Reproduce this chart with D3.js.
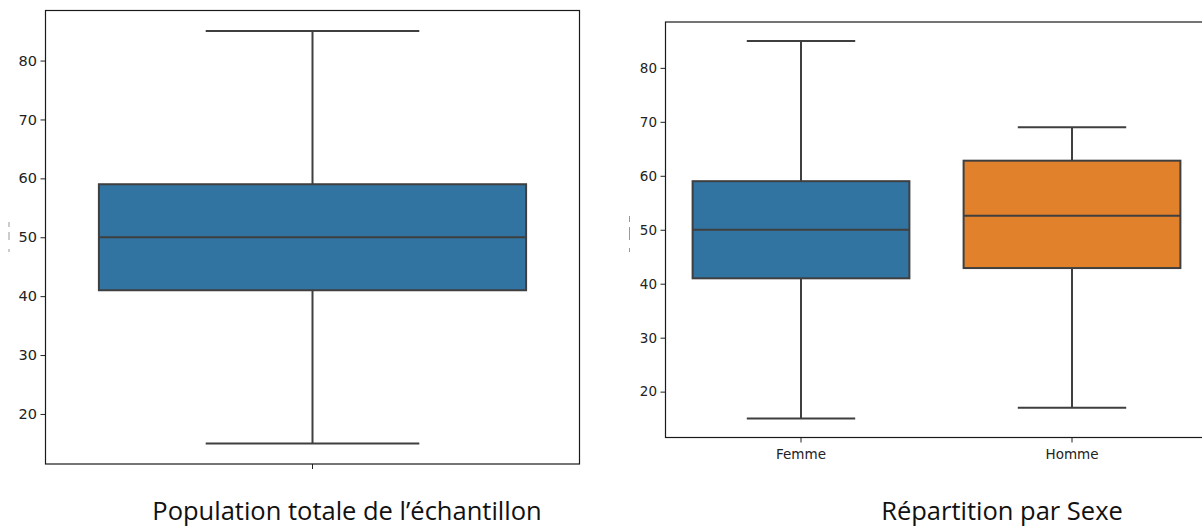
<!DOCTYPE html>
<html>
<head>
<meta charset="utf-8">
<script src="https://cdn.jsdelivr.net/npm/d3@7"></script>
<style>
  html, body { margin: 0; padding: 0; background: #ffffff; }
  svg { display: block; }
</style>
</head>
<body>
<svg id="chart" width="1202" height="527"></svg>
<script>
// ---- data ----
const totalCategories = [""];
const totalWhiskerLow = [15];
const totalQ1 = [41];
const totalMedian = [50];
const totalQ3 = [59];
const totalWhiskerHigh = [85];

const sexCategories = ["Femme", "Homme"];
const sexWhiskerLow = [15, 17];
const sexQ1 = [41, 42.9];
const sexMedian = [50, 52.6];
const sexQ3 = [59, 62.8];
const sexWhiskerHigh = [85, 69];

const yTicks = [20, 30, 40, 50, 60, 70, 80];
const yDomain = [11.5, 88.5];
const boxColors = ["#3274a1", "#e1812c"];
const captions = ["Population totale de l\u2019\u00e9chantillon", "R\u00e9partition par Sexe"];

const svg = d3.select("#chart");
const lineColor = "#3f3f3f";

function drawPanel(opts) {
  const { x0, x1, y0, y1, cats, lo, q1, med, q3, hi, colors, fontSize, showXLabels } = opts;
  const g = svg.append("g");
  const x = d3.scaleBand().domain(cats).range([x0, x1]).paddingInner(0).paddingOuter(0);
  const y = d3.scaleLinear().domain(yDomain).range([y1, y0]);
  const bw = x.bandwidth() * 0.8;
  const cw = bw * 0.5;

  // y axis
  const ya = g.append("g").attr("transform", `translate(${x0},0)`)
    .call(d3.axisLeft(y).tickValues(yTicks).tickSize(5).tickPadding(3.5));
  ya.select(".domain").remove();
  ya.selectAll(".tick line").attr("stroke", "#222").attr("stroke-width", 1);
  ya.selectAll(".tick text").attr("fill", "#222").style("font-family", "'DejaVu Sans'")
    .style("font-size", fontSize + "px");

  // x axis
  const xa = g.append("g").attr("transform", `translate(0,${y1})`)
    .call(d3.axisBottom(x).tickSize(5).tickPadding(7));
  xa.select(".domain").remove();
  xa.selectAll(".tick line").attr("stroke", "#222").attr("stroke-width", 1);
  xa.selectAll(".tick text").attr("fill", "#222").style("font-family", "'DejaVu Sans'")
    .style("font-size", fontSize + "px");
  if (!showXLabels) xa.selectAll(".tick text").remove();

  cats.forEach((c, i) => {
    const cx = x(c) + x.bandwidth() / 2;
    const gb = g.append("g");
    // whiskers
    gb.append("line").attr("x1", cx).attr("x2", cx).attr("y1", y(q3[i])).attr("y2", y(hi[i]))
      .attr("stroke", lineColor).attr("stroke-width", 2);
    gb.append("line").attr("x1", cx).attr("x2", cx).attr("y1", y(q1[i])).attr("y2", y(lo[i]))
      .attr("stroke", lineColor).attr("stroke-width", 2);
    // caps
    gb.append("line").attr("x1", cx - cw / 2).attr("x2", cx + cw / 2).attr("y1", y(hi[i])).attr("y2", y(hi[i]))
      .attr("stroke", lineColor).attr("stroke-width", 2);
    gb.append("line").attr("x1", cx - cw / 2).attr("x2", cx + cw / 2).attr("y1", y(lo[i])).attr("y2", y(lo[i]))
      .attr("stroke", lineColor).attr("stroke-width", 2);
    // box
    gb.append("rect").attr("x", cx - bw / 2).attr("y", y(q3[i])).attr("width", bw)
      .attr("height", y(q1[i]) - y(q3[i])).attr("fill", colors[i])
      .attr("stroke", lineColor).attr("stroke-width", 2);
    // median
    gb.append("line").attr("x1", cx - bw / 2).attr("x2", cx + bw / 2).attr("y1", y(med[i])).attr("y2", y(med[i]))
      .attr("stroke", lineColor).attr("stroke-width", 2);
  });

  // frame
  g.append("rect").attr("x", x0).attr("y", y0).attr("width", x1 - x0).attr("height", y1 - y0)
    .attr("fill", "none").attr("stroke", "#1a1a1a").attr("stroke-width", 1.2);
}

drawPanel({
  x0: 45.5, x1: 579.5, y0: 10.5, y1: 464,
  cats: totalCategories, lo: totalWhiskerLow, q1: totalQ1, med: totalMedian, q3: totalQ3, hi: totalWhiskerHigh,
  colors: boxColors, fontSize: 14.5, showXLabels: false
});

drawPanel({
  x0: 665.5, x1: 1207.5, y0: 22, y1: 437.5,
  cats: sexCategories, lo: sexWhiskerLow, q1: sexQ1, med: sexMedian, q3: sexQ3, hi: sexWhiskerHigh,
  colors: boxColors, fontSize: 13.5, showXLabels: true
});

// clipped y-label remnants
[[9, [[222, 227], [232, 240], [249, 252]]], [629.5, [[216, 222], [227, 240], [248, 252]]]].forEach(([xx, segs]) => {
  segs.forEach(s => svg.append("line").attr("x1", xx).attr("x2", xx).attr("y1", s[0]).attr("y2", s[1])
    .attr("stroke", "#999").attr("stroke-width", 1));
});

// captions
svg.append("text").attr("x", 347).attr("y", 520).attr("text-anchor", "middle")
  .style("font-family", "'Open Sans'").style("font-size", "25.5px").attr("fill", "#111").text(captions[0]);
svg.append("text").attr("x", 1002).attr("y", 520).attr("text-anchor", "middle")
  .style("font-family", "'Open Sans'").style("font-size", "25.5px").attr("fill", "#111").text(captions[1]);
</script>
</body>
</html>
